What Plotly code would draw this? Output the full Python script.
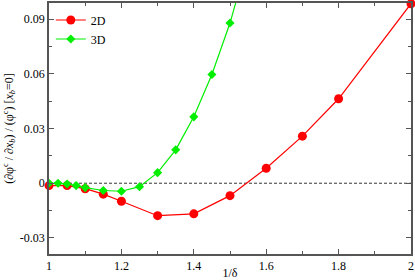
import plotly.graph_objects as go

# 2D curve
x_2d = [1.0, 1.05, 1.1, 1.15, 1.2, 1.3, 1.4, 1.5, 1.6, 1.7, 1.8, 2.0]
y_2d = [-0.0013, -0.0013, -0.003, -0.006, -0.0099, -0.0178, -0.0168, -0.0068, 0.0082, 0.0258, 0.0463, 0.0984]

# 3D curve (last point runs off the top)
x_3d = [1.0, 1.025, 1.05, 1.075, 1.1, 1.15, 1.2, 1.25, 1.3, 1.35, 1.4, 1.45, 1.5, 1.55]
y_3d = [0.0, 0.0, -0.0004, -0.0013, -0.0024, -0.004, -0.0044, -0.0019, 0.0058, 0.0183, 0.0364, 0.0596, 0.0878, 0.123]

x_ticks = [1, 1.2, 1.4, 1.6, 1.8, 2]
x_labels = ["1", "1.2", "1.4", "1.6", "1.8", "2"]
y_ticks = [-0.03, 0, 0.03, 0.06, 0.09]
y_labels = ["-0.03", "0", "0.03", "0.06", "0.09"]

serif = "Liberation Serif, Times New Roman, serif"

fig = go.Figure()
fig.add_trace(go.Scatter(
    x=[1, 2], y=[0, 0], mode="lines", showlegend=False, hoverinfo="skip",
    line=dict(color="black", width=0.8, dash="3px,2px")))
fig.add_trace(go.Scatter(
    x=x_2d, y=y_2d, name="2D", mode="lines+markers", cliponaxis=False,
    line=dict(color="#ff0000", width=1.2),
    marker=dict(symbol="circle", size=9, color="#ff0000")))
fig.add_trace(go.Scatter(
    x=x_3d, y=y_3d, name="3D", mode="lines+markers", cliponaxis=True,
    line=dict(color="#00ee00", width=1.2),
    marker=dict(symbol="diamond", size=7, color="#00ee00")))

axis_common = dict(
    showgrid=False, zeroline=False, showline=True, linecolor="#555555", linewidth=1.5,
    mirror="allticks", ticks="inside", ticklen=5, tickcolor="#555555", automargin=False,
    tickfont=dict(family=serif, size=12, color="black"),
)

fig.update_xaxes(
    range=[1, 2], tickvals=x_ticks, ticktext=x_labels,
    minor=dict(dtick=0.1, ticks="inside", ticklen=3, tickcolor="#555555"),
    title=dict(text="1/δ", font=dict(family=serif, size=12, color="black"), standoff=0),
    **axis_common)
fig.update_yaxes(
    range=[-0.0388, 0.0988], tickvals=y_ticks, ticktext=y_labels,
    minor=dict(dtick=0.015, ticks="inside", ticklen=3, tickcolor="#555555"),
    title=dict(text="(∂φ<sup>c</sup> / ∂<i>x<sub>b</sub></i>) / (φ<sup>c</sup>) [<i>x<sub>b</sub></i>=0]",
               font=dict(family=serif, size=12, color="black"), standoff=4),
    **axis_common)

fig.update_layout(
    width=415, height=280,
    margin=dict(l=49, r=4, t=3, b=26),
    paper_bgcolor="white", plot_bgcolor="white",
    legend=dict(x=0.005, y=0.99, xanchor="left", yanchor="top",
                bgcolor="rgba(0,0,0,0)", font=dict(family=serif, size=12, color="black"),
                itemwidth=30, tracegroupgap=0),
)

fig.write_html("out.html", config={"displayModeBar": False},
               post_script="document.body.style.margin='0';document.body.style.overflow='hidden';")
